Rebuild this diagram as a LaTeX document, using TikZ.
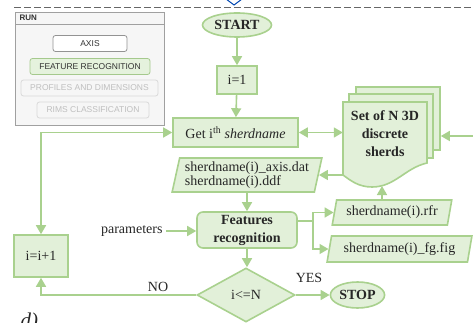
\documentclass[tikz,border=0pt]{standalone}
\usepackage{fontspec}
\setmainfont{Liberation Serif}
\newfontfamily\uisans{Liberation Sans}
\usetikzlibrary{shapes.geometric,arrows.meta}

\definecolor{flowline}{HTML}{A9D18E}
\definecolor{flowfill}{HTML}{E2F0D9}
\definecolor{flowtext}{HTML}{262626}
\definecolor{uitext}{HTML}{333333}
\definecolor{uiedge}{HTML}{A0A0A0}
\definecolor{uiback}{HTML}{F6F6F6}

\tikzset{
	box/.style = {draw=flowline, fill=flowfill, line width=1.6pt, text=flowtext, inner sep=1pt},
	term/.style = {box, ellipse, font=\fontsize{14}{13.5}\selectfont\bfseries},
	proc/.style = {box, rectangle},
	iofile/.style = {box, trapezium, trapezium left angle=76, trapezium right angle=104, trapezium stretches=true},
	cond/.style = {box, diamond, aspect=1.8, inner sep=0pt},
	page/.style = {box, rectangle},
	flow/.style = {draw=flowline, line width=1.6pt},
	arr/.style = {flow, -{Triangle[length=9pt,width=10pt]}},
	arrtwo/.style = {flow, {Triangle[length=9pt,width=10pt]}-{Triangle[length=9pt,width=10pt]}},
	lbl/.style = {text=flowtext},
	btn/.style = {rounded corners=2.5pt, line width=0.8pt, inner sep=0pt, minimum height=16pt,
		font=\uisans\fontsize{8.5}{10}\selectfont},
	panel/.style = {draw=uiedge, line width=0.8pt}
}

\begin{document}
\begin{tikzpicture}[x=1pt,y=-1pt,font=\fontsize{14}{13.5}\selectfont]
\useasboundingbox (0,0) rectangle (473,323);

% top separator
\draw[gray!80!black, line width=0.7pt, dash pattern=on 7pt off 3pt] (14,7) -- (473,7);
\draw[blue!60!cyan!70!black, line width=1pt] (226,-1) -- (234,5) -- (242,-1);

% run panel
\draw[panel, fill=uiback] (15,12) rectangle (164,125);
\draw[panel] (15,24) -- (164,24);
\node[anchor=west, text=uitext, font=\uisans\bfseries\fontsize{8}{9}\selectfont] (run) at (16,18) {RUN};
\foreach \n/\x/\y/\w/\f/\d/\c/\lbl in {
	axis/90/43.5/74/white/gray!85/uitext/AXIS,
	recog/90/66.5/120/flowfill!90!white/flowline!90!gray/uitext/FEATURE RECOGNITION,
	prof/89.5/88/137/uiback/gray!30/gray!50/PROFILES AND DIMENSIONS,
	rims/93/110/112/uiback/gray!30/gray!50/RIMS CLASSIFICATION}
{
	\node[btn, minimum width=\w, fill=\f, draw=\d, text=\c] (btn-\n) at (\x,\y) {\lbl};
}

% flowchart
\node[term, minimum width=69, minimum height=24] (start) at (237,25) {START};
\node[proc, minimum width=40, minimum height=28] (init) at (237,80) {i=1};
\node[proc, minimum width=125, minimum height=29] (get) at (235.5,132.5) {Get i\textsuperscript{th} \textit{sherdname}};

% stack of sherds
\node[page, minimum width=84, minimum height=63] (back) at (398,118.5) {};
\node[page, minimum width=84, minimum height=64] (mid) at (391,126) {};
\draw[box] (343,175) -- (343,102) -- (427,102) -- (427,163)
	.. controls (405,168) and (395,187) .. (372,187)
	.. controls (358,187) and (350,180) .. (343,175) -- cycle;
\node[minimum width=84, minimum height=63, align=center, text=flowtext,
	font=\bfseries\fontsize{14}{18}\selectfont] (sherds) at (385,133.5) {Set of N 3D\\discrete\\sherds};

\node[iofile, minimum width=150, minimum height=34, align=left] (files) at (247,175)
	{sherdname(i)\_axis.dat\\sherdname(i).ddf};
\node[proc, rounded corners=6pt, minimum width=100, minimum height=36, align=center,
	font=\bfseries\fontsize{14}{18}\selectfont] (feat) at (247,230) {Features\\recognition};
\node[lbl, anchor=east] (params) at (166,231) {parameters};
\node[iofile, minimum width=120, minimum height=25] (rfr) at (392,212.5) {sherdname(i).rfr};
\node[iofile, minimum width=145, minimum height=26] (fig) at (399.5,249) {sherdname(i)\_fg.fig};
\node[cond, minimum width=98, minimum height=54] (test) at (246,295) {i<=N};
\node[term, minimum width=49, minimum height=26] (stop) at (357.5,295) {STOP};
\node[proc, minimum width=54, minimum height=42] (incr) at (41,256) {i=i+1};

% connectors
\draw[arr] (start) -- (init);
\draw[arr] (init) -- (get);
\draw[arrtwo] (get.east) -- (get.east -| sherds.west);
\coordinate (feed) at (474,136);
\draw[arr] (feed) -- (feed -| back.east);
\draw[arr] (sherds.west |- files.east) -- (files.east);
\draw[arr] (files.south) -- (files.south |- feat.north);
\draw[arr] (params.east) -- (params.east -| feat.west);
\coordinate (fork) at (313,221);
\draw[flow] (feat.east |- fork) -- (fork);
\draw[arr] (fork) |- (rfr.west);
\draw[arr] (fork) |- (fig.west);
\coordinate (wave) at (382,186);
\draw[arr] (wave |- rfr.north) -- (wave);
\draw[arr] (feat.south) -- (feat.south |- test.north);
\draw[arr] (test) -- (stop);
\draw[arr] (test.west) -| (incr.south);
\draw[arrtwo] (incr.north) |- (get.west);

\node[lbl] (yes) at (309,278) {YES};
\node[lbl] (no) at (158,287) {NO};
\node[anchor=base west, text=flowtext, font=\itshape\fontsize{21}{21}\selectfont] (tag) at (17,327) {d)};
\end{tikzpicture}
\end{document}
